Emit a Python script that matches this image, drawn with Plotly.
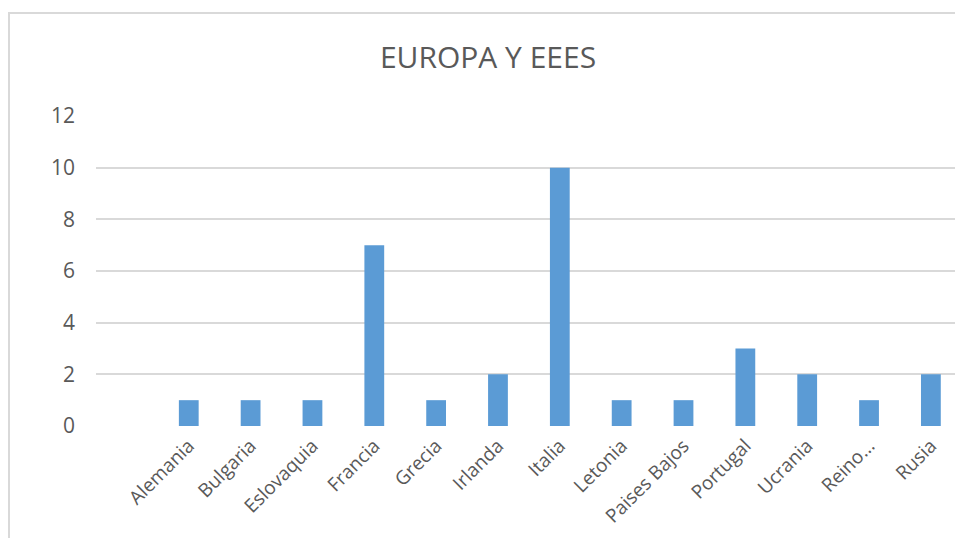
import plotly.graph_objects as go

# data
paises = ["", "Alemania", "Bulgaria", "Eslovaquia", "Francia", "Grecia", "Irlanda",
          "Italia", "Letonia", "Paises Bajos", "Portugal", "Ucrania", "Reino...", "Rusia"]
valores = [None, 1, 1, 1, 7, 1, 2, 10, 1, 1, 3, 2, 1, 2]
y_ticks = [0, 2, 4, 6, 8, 10, 12]

gris = "#595959"
font = "Open Sans, Liberation Sans, sans-serif"

W, H = 955, 538

fig = go.Figure(go.Bar(
    x=list(range(len(paises))),
    y=valores,
    marker=dict(color="#5B9BD5", line=dict(width=0)),
))

fig.update_layout(
    width=W,
    height=H,
    margin=dict(l=96, r=0, t=116, b=H - 426),
    paper_bgcolor="white",
    plot_bgcolor="white",
    bargap=0.68,
    showlegend=False,
    font=dict(family=font, color=gris, size=19),
    title=dict(text="EUROPA Y EEES", x=(488 - 96) / 859, xref="paper", xanchor="center",
               y=1 - 57 / H, yref="container", yanchor="middle",
               font=dict(size=30, color=gris, family=font)),
)

fig.update_xaxes(
    tickmode="array",
    tickvals=list(range(len(paises))),
    ticktext=paises,
    tickangle=-45,
    range=[-0.5, 13.39],
    showgrid=False,
    zeroline=False,
    showline=False,
    ticks="",
    ticklabelstandoff=4,
    tickfont=dict(size=19, color=gris),
)
fig.update_yaxes(
    range=[0, 12],
    tickvals=y_ticks,
    showgrid=True,
    gridcolor="#D9D9D9",
    gridwidth=1.5,
    zeroline=False,
    showline=False,
    ticks="",
    ticklabelstandoff=20,
    tickfont=dict(size=21, color=gris),
)

# thin outer chart frame (left/top visible)
fig.add_shape(type="rect", xref="paper", yref="paper",
              x0=-87 / 859, x1=1.3, y0=-0.6, y1=(426 - 13) / 310,
              line=dict(color="#D9D9D9", width=2), layer="below")

# drop the default page margin so the figure fills the window exactly
fig.write_html("out.html",
               config={"displayModeBar": False},
               post_script="document.body.style.margin='0';document.body.style.overflow='hidden';")
